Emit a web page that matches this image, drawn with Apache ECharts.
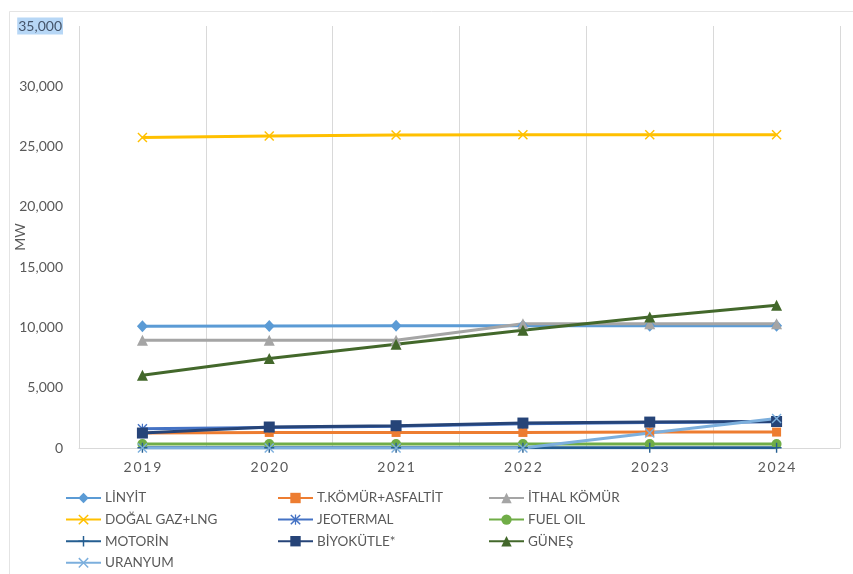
<!DOCTYPE html>
<html>
<head>
<meta charset="utf-8">
<script src="https://cdn.jsdelivr.net/npm/echarts@6/dist/echarts.min.js"></script>
<style>
html,body{margin:0;padding:0;background:#fff;}
#chart{width:853px;height:574px;}
</style>
</head>
<body>
<div id="chart"></div>
<script>
const categories = ['2019', '2020', '2021', '2022', '2023', '2024'];
const yTicks = { min: 0, max: 35000, interval: 5000 };

const linyit    = [10100, 10120, 10130, 10130, 10130, 10130];
const tkomur    = [1250, 1290, 1290, 1290, 1320, 1320];
const ithal     = [8940, 8940, 8940, 10300, 10300, 10300];
const dogalgaz  = [25750, 25880, 25970, 25980, 25980, 25980];
const jeotermal = [1600, 1700, 1800, 2020, 2120, 2170];
const fueloil   = [330, 330, 330, 330, 330, 330];
const motorin   = [20, 20, 20, 20, 20, 20];
const biyokutle = [1240, 1740, 1850, 2070, 2150, 2200];
const gunes     = [6040, 7430, 8610, 9770, 10870, 11840];
const uranyum   = [0, 0, 0, 0, 1250, 2450];

const X_PATH = 'path://M0,1L1,0L5,4L9,0L10,1L6,5L10,9L9,10L5,6L1,10L0,9L4,5Z';
const PLUS_PATH = 'path://M4.3,0H5.7V4.3H10V5.7H5.7V10H4.3V5.7H0V4.3H4.3Z';
const AST_PATH = 'path://M0,1L1,0L5,4L9,0L10,1L6,5L10,9L9,10L5,6L1,10L0,9L4,5ZM4.4,0H5.6V10H4.4Z';

const FONT = 'Lato';
const TXT = '#595959';

function mk(name, data, color, symbol, size) {
  return {
    name, type: 'line', data,
    symbol, symbolSize: size,
    showAllSymbol: true,
    lineStyle: { color, width: 3 },
    itemStyle: { color, borderWidth: 0 },
    emphasis: { disabled: true }
  };
}

const series = [
  mk('LİNYİT', linyit, '#5B9BD5', 'diamond', [11, 12]),
  mk('T.KÖMÜR+ASFALTİT', tkomur, '#ED7D31', 'rect', 9),
  mk('İTHAL KÖMÜR', ithal, '#A5A5A5', 'triangle', 11),
  mk('DOĞAL GAZ+LNG', dogalgaz, '#FFC000', X_PATH, 10),
  mk('JEOTERMAL', jeotermal, '#4472C4', AST_PATH, 10),
  mk('FUEL OIL', fueloil, '#70AD47', 'circle', 10),
  mk('MOTORİN', motorin, '#255E91', PLUS_PATH, 10),
  mk('BİYOKÜTLE*', biyokutle, '#264478', 'rect', 11),
  mk('GÜNEŞ', gunes, '#43682B', 'triangle', 11),
  mk('URANYUM', uranyum, '#7CAFDD', X_PATH, 10)
];

function legend(names, left) {
  return {
    data: names, orient: 'vertical', left, top: 491, height: 120, padding: 0,
    itemWidth: 35, itemHeight: 13, itemGap: 7.6,
    textStyle: { fontFamily: FONT, fontSize: 13.5, color: TXT, padding: [0, 0, 0, -1] },
    selectedMode: false
  };
}

const chart = echarts.init(document.getElementById('chart'), null, { renderer: 'canvas' });
chart.setOption({
  animation: false,
  backgroundColor: '#ffffff',
  graphic: [{
    type: 'rect', silent: true, z: -10,
    shape: { x: 9.5, y: 11.5, width: 900, height: 700 },
    style: { fill: 'none', stroke: '#e4e4e4', lineWidth: 1 }
  }],
  grid: { left: 79, right: 13, top: 26, bottom: 126, containLabel: false, outerBoundsMode: 'none' },
  xAxis: {
    type: 'category', data: categories, boundaryGap: true,
    axisLine: { show: true, lineStyle: { color: '#d9d9d9', width: 1 } },
    axisTick: { show: false },
    splitLine: { show: true, lineStyle: { color: '#d9d9d9', width: 1 } },
    axisLabel: {
      margin: 12, fontFamily: FONT, fontSize: 14, color: TXT,
      formatter: v => v.split('').join('\u2009')
    }
  },
  yAxis: {
    type: 'value', min: yTicks.min, max: yTicks.max, interval: yTicks.interval,
    name: 'MW', nameLocation: 'middle', nameGap: 52, nameRotate: 90, nameMoveOverlap: false,
    nameTextStyle: { fontFamily: FONT, fontSize: 14, color: TXT },
    axisLine: { show: false }, axisTick: { show: false },
    splitLine: { show: false },
    axisLabel: {
      margin: 16, fontFamily: FONT, fontSize: 14, color: TXT,
      formatter: v => {
        const s = v.toLocaleString('en-US');
        return v === yTicks.max ? '{sel|' + s + '}' : s;
      },
      rich: {
        sel: { backgroundColor: '#b7d7f6', color: '#44546a', fontFamily: FONT, fontSize: 14, padding: [2, 1, 1, 1] }
      }
    }
  },
  legend: [
    legend(['LİNYİT', 'DOĞAL GAZ+LNG', 'MOTORİN', 'URANYUM'], 65),
    legend(['T.KÖMÜR+ASFALTİT', 'JEOTERMAL', 'BİYOKÜTLE*'], 277),
    legend(['İTHAL KÖMÜR', 'FUEL OIL', 'GÜNEŞ'], 488)
  ],
  series
});
</script>
</body>
</html>
